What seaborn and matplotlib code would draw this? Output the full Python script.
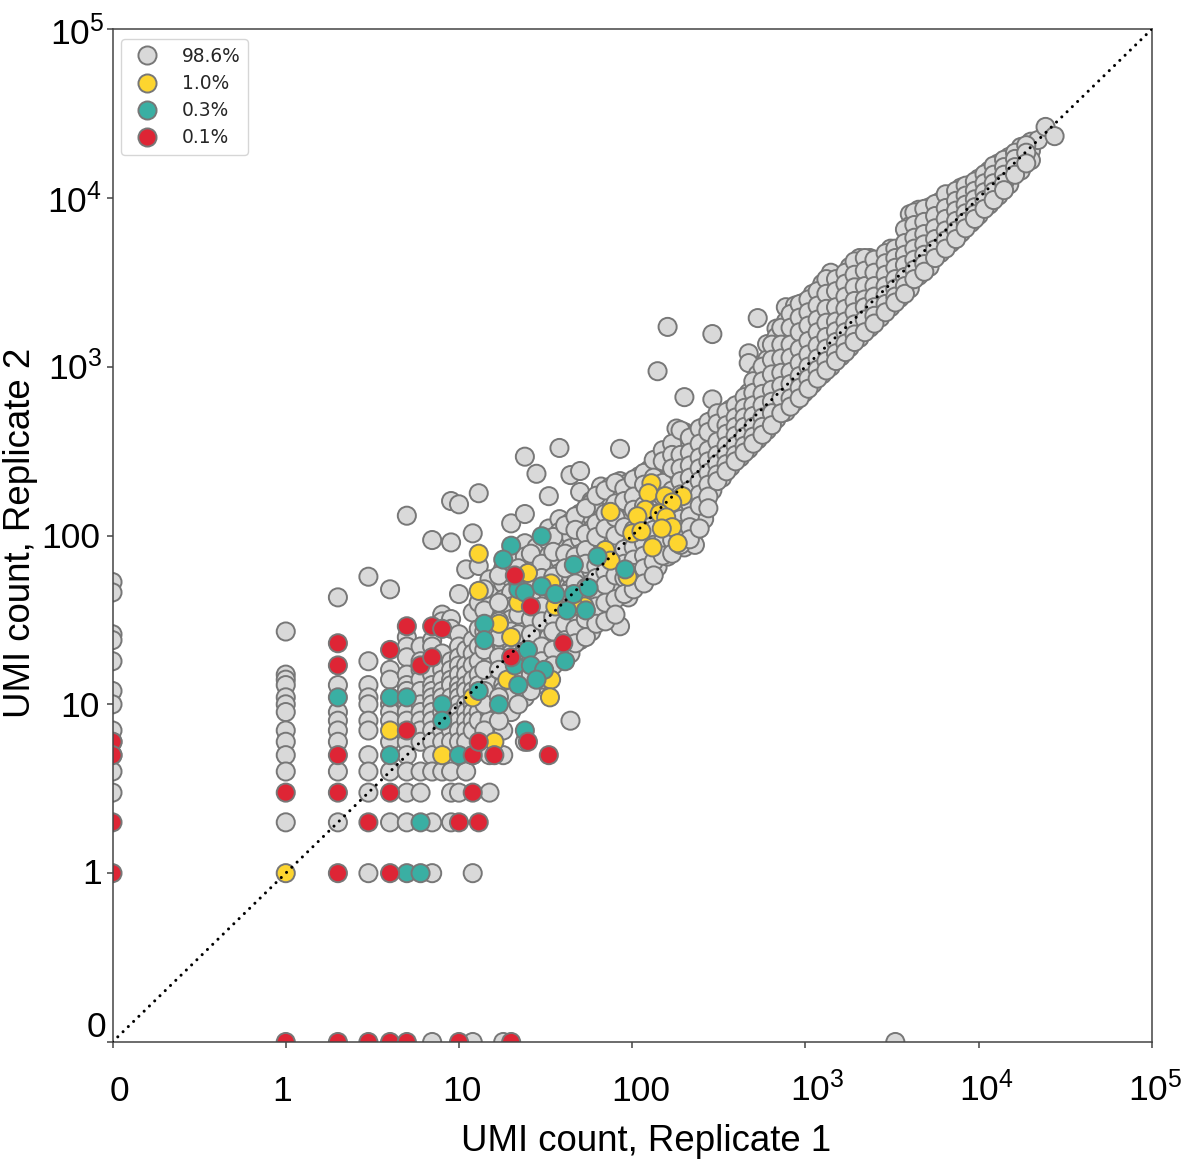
import matplotlib
matplotlib.use("Agg")
import matplotlib.pyplot as plt
import matplotlib.transforms as mtrans
import pandas as pd
import seaborn as sns

LEGEND = ["98.6%", "1.0%", "0.3%", "0.1%"]
COLORS = ["#d9d9d9", "#fdd52f", "#3aafa3", "#de2535"]
TICKS = [0, 1, 10, 100, 1000, 10000, 100000]
TICK_LABELS = ["0", "1", "10", "100", r"$\mathregular{10^{3}}$", r"$\mathregular{10^{4}}$", r"$\mathregular{10^{5}}$"]

# grey points: each x with the y values seen above it
grey_col_x = [0, 1, 2, 3, 4, 5, 6, 7, 8, 9, 10, 11, 12, 13,
              15, 18, 20, 24, 28, 33, 38, 44, 50, 58, 66, 75, 85, 95, 110, 125, 140, 160, 180,
              200, 230, 260, 290, 330, 370, 420, 470, 530, 600, 680, 770, 870, 980, 1100, 1250, 1400,
              1600, 1800, 2050, 2350, 2700, 3100, 3500, 4000, 4500, 5200, 6000, 6900, 7900, 9000,
              10000, 11500, 13000, 15000, 17500, 20000, 22000]
grey_col_y = [
    [53, 46, 26, 24, 18, 12, 10, 7, 6, 5, 4, 3],
    [27, 15, 14, 13, 11, 10, 9, 7, 6, 5, 4, 2],
    [43, 13, 9, 8, 7, 6, 4, 2],
    [57, 18, 13, 11, 10, 8, 7, 5, 4, 3, 1],
    [48, 16, 14, 10, 9, 8, 6, 4, 2],
    [131, 25, 22, 19, 15, 13, 12, 10, 9, 8, 6, 5, 4, 3, 2],
    [22, 18, 16, 14, 12, 10, 9, 8, 7, 6, 4, 3],
    [94, 24, 22, 18, 15, 13, 12, 11, 10, 9, 8, 7, 6, 5, 4, 2, 1, 0],
    [34, 31, 20, 16, 14, 12, 11, 9, 7, 6, 4],
    [91, 160, 32, 28, 18, 16, 14, 13, 11, 9, 8, 7, 6, 4, 3, 2],
    [153, 45, 26, 22, 19, 17, 15, 13, 12, 11, 10, 9, 8, 7, 6, 3],
    [63, 21, 17, 15, 13, 12, 10, 9, 8, 7, 6, 4],
    [103, 35, 24, 20, 17, 14, 12, 10, 9, 8, 7, 5, 1, 0],
    [178, 66, 40, 28, 22, 18, 15, 13, 11, 9, 8],
    [55, 45, 38, 33, 28, 24, 20, 17, 15, 13, 11, 9, 8, 5, 3],
    [64, 52, 42, 35, 30, 26, 22, 18, 15, 13, 12, 9, 7, 5, 0],
    [118, 70, 56, 46, 38, 32, 27, 23, 20, 16, 14, 11, 9],
    [134, 293, 90, 75, 60, 50, 42, 36, 30, 25, 21, 17, 14, 11, 6],
    [232, 85, 70, 58, 48, 40, 34, 28, 24, 20, 16, 13],
    [171, 110, 92, 76, 62, 52, 44, 36, 30, 25, 20, 15],
    [330, 125, 105, 86, 72, 60, 50, 42, 34, 28, 22, 18],
    [228, 120, 100, 84, 70, 58, 48, 40, 33, 26, 20, 8],
    [241, 181, 135, 112, 95, 78, 65, 55, 46, 38, 30, 24],
    [160, 155, 130, 108, 90, 75, 62, 52, 44, 36, 27],
    [195, 150, 125, 105, 88, 72, 60, 50, 42, 34],
    [195, 165, 140, 115, 95, 80, 66, 55, 46, 36],
    [326, 210, 175, 150, 125, 105, 88, 72, 60, 50, 29],
    [205, 180, 150, 125, 105, 90, 75, 62, 52, 43],
    [225, 190, 160, 135, 115, 95, 80, 68, 55],
    [245, 210, 175, 145, 120, 100, 85, 72, 60],
    [940, 260, 230, 190, 160, 135, 115, 95, 80, 65],
    [1720, 300, 260, 215, 180, 150, 125, 105, 88, 75],
    [430, 330, 280, 235, 195, 165, 140, 118, 100, 85],
    [660, 410, 330, 280, 235, 195, 165, 140, 118, 100, 85],
    [400, 340, 285, 240, 200, 170, 145, 125, 105, 88],
    [440, 370, 310, 265, 225, 190, 160, 125],
    [1560, 640, 480, 400, 340, 290, 250, 215, 185],
    [520, 440, 380, 330, 285, 245, 220],
    [560, 480, 420, 370, 320, 280, 255],
    [600, 530, 470, 420, 365, 320, 290],
    [1200, 1050, 700, 600, 530, 470, 410, 360, 325],
    [1940, 900, 750, 640, 550, 470, 410, 370],
    [1360, 1100, 900, 750, 640, 550, 470, 420],
    [1680, 1500, 1200, 1000, 820, 690, 590, 490],
    [2250, 1850, 1500, 1250, 1020, 850, 720, 590, 540],
    [2170, 2300, 1900, 1500, 1250, 1020, 860, 720, 620],
    [2400, 2000, 1650, 1350, 1120, 950, 800, 700],
    [2700, 2200, 1800, 1500, 1250, 1050, 900, 790],
    [3100, 2500, 2050, 1700, 1420, 1200, 1020, 900],
    [3600, 2900, 2350, 1950, 1600, 1350, 1150, 1000],
    [3130, 3000, 2500, 2100, 1750, 1500, 1280, 1150],
    [3900, 3300, 2800, 2350, 2000, 1700, 1450, 1300],
    [4400, 3700, 3100, 2600, 2200, 1850, 1620, 1480],
    [4400, 3800, 3200, 2700, 2300, 1950, 1700],
    [4300, 3900, 3300, 2800, 2400, 2100, 1950],
    [5000, 4300, 3700, 3200, 2800, 2500, 2250],
    [5000, 4600, 4000, 3500, 3050, 2750, 2550],
    [8000, 6800, 5600, 4800, 4200, 3650, 3200, 2900],
    [8500, 7000, 6000, 5200, 4500, 3900, 3450],
    [8800, 7400, 6300, 5400, 4700, 4200, 3900],
    [9500, 8200, 7000, 6000, 5200, 4700],
    [10500, 9300, 8000, 6900, 6000, 5400],
    [11500, 10000, 8800, 7800, 6900, 6200],
    [12000, 10700, 9500, 8500, 7600, 7100],
    [13000, 11500, 10200, 9200, 8100, 7900],
    [14500, 13000, 11500, 10200, 9100],
    [16000, 14500, 13000, 11600, 10300],
    [17500, 16000, 14500, 13000, 12000],
    [20000, 18000, 16000, 14500],
    [21500, 19000, 16700],
    [22000],
]
# further grey points lying between those columns, drawn over them
grey_more_x = [14, 17, 22, 26, 30, 35, 41, 47, 54, 62, 70, 80, 90, 102, 117, 133, 150, 170, 190,
               215, 245, 275, 310, 350, 395, 445, 500, 565, 640, 725, 820, 925, 1040, 1175, 1320,
               1500, 1700, 1920, 2200, 2500, 2900, 3300, 3750, 4250, 4850, 5600, 6450, 7400, 8400,
               9500, 10800, 12200, 14000, 16200, 18800]
grey_more_y = [
    [48, 36, 27, 21, 16, 12, 10, 7],
    [58, 40, 31, 25, 19, 16, 11, 8],
    [64, 52, 34, 26, 19, 15, 10],
    [78, 54, 44, 32, 26, 18, 15, 12],
    [68, 56, 38, 31, 22, 18, 14],
    [98, 80, 57, 46, 33, 27, 21, 17],
    [115, 78, 64, 45, 37, 30, 24],
    [130, 108, 75, 52, 43, 35, 28, 23],
    [145, 102, 82, 68, 49, 40, 32, 25],
    [172, 118, 98, 66, 56, 47, 38, 30],
    [185, 135, 110, 75, 61, 51, 40, 31],
    [205, 155, 128, 100, 70, 58, 42, 34],
    [190, 160, 112, 83, 68, 56, 45],
    [215, 170, 142, 108, 85, 72, 60, 48],
    [235, 200, 150, 125, 90, 76, 64, 52],
    [280, 220, 180, 128, 108, 88, 70, 58],
    [320, 275, 205, 170, 130, 110, 92, 76],
    [350, 300, 250, 185, 155, 130, 112, 94, 78],
    [420, 300, 250, 210, 175, 150, 125, 108, 88],
    [380, 310, 260, 220, 185, 155, 130, 112, 95],
    [430, 350, 290, 250, 210, 175, 150, 110],
    [470, 410, 320, 275, 235, 200, 170, 145],
    [530, 460, 360, 300, 265, 230, 210],
    [540, 450, 400, 340, 300, 265, 240],
    [590, 500, 440, 390, 340, 300, 275],
    [660, 570, 500, 440, 385, 340, 310],
    [820, 700, 590, 510, 440, 385, 350],
    [1000, 820, 690, 590, 500, 440, 395],
    [1350, 1100, 900, 730, 620, 530, 450],
    [1700, 1350, 1120, 920, 770, 650, 530],
    [2050, 1700, 1350, 1130, 930, 790, 650, 580],
    [2350, 1950, 1600, 1270, 1050, 880, 750, 650],
    [2500, 2100, 1750, 1420, 1180, 1000, 850, 740],
    [2800, 2300, 1900, 1600, 1330, 1120, 960, 850],
    [3300, 2700, 2200, 1820, 1500, 1280, 1080, 950],
    [3300, 2800, 2250, 1850, 1620, 1400, 1200, 1080],
    [3600, 3100, 2600, 2200, 1850, 1600, 1370, 1220],
    [4200, 3500, 2950, 2450, 2100, 1780, 1550, 1400],
    [4400, 3700, 3000, 2500, 2250, 1900, 1600],
    [4300, 3600, 3000, 2600, 2250, 2000, 1800],
    [4700, 4100, 3500, 3000, 2650, 2350, 2100],
    [5000, 4400, 3850, 3300, 2900, 2600, 2400, 0],
    [6500, 5400, 4600, 4000, 3400, 3000, 2700],
    [8200, 6900, 5800, 5000, 4300, 3750, 3300],
    [8600, 7200, 6100, 5300, 4600, 4050, 3650],
    [9200, 7800, 6600, 5700, 4950, 4400],
    [10500, 8700, 7500, 6400, 5600, 5000],
    [11000, 9600, 8400, 7300, 6400, 5700],
    [11800, 10300, 9100, 8100, 7200, 6600],
    [12500, 11000, 9800, 8800, 8000, 7500],
    [13800, 12200, 10800, 9700, 8600],
    [15500, 13700, 12200, 10900, 9700],
    [16800, 15200, 13700, 12200, 11100],
    [18500, 17000, 15200, 13700],
    [20500, 18500, 16000],
]
grey_top_x = [24300, 27400]
grey_top_y = [26300, 23200]

yellow_x = [1, 4, 8, 12, 16, 13, 13, 25, 17, 20, 19, 34, 33.5, 22, 34, 36, 53, 46, 70, 75, 94, 75,
            129, 124, 155, 195, 170, 119, 107, 144, 157, 170, 148, 100, 113, 131, 183]
yellow_y = [1, 7, 5, 11, 6, 78, 47, 60, 30, 25, 14, 14, 11, 40, 52, 38, 38, 38, 82, 71, 57, 138,
            204, 178, 171, 171, 157, 142, 130, 135, 128, 112, 110, 103, 106, 85, 90]
teal_x = [2, 4, 5, 4, 10, 6, 5, 6, 8, 8, 13, 17, 24, 14, 14, 25, 41, 21, 26, 31, 28, 22,
          20, 18, 30, 22, 24, 30, 36, 42, 46, 56, 54, 46, 63, 91]
teal_y = [11, 11, 11, 5, 5, 2, 1, 1, 10, 8, 12, 10, 7, 30, 24, 21, 18, 17, 17, 16, 14, 13,
          87, 72, 99, 48, 46, 50, 45, 36, 45, 49, 36, 67, 75, 63]
red_x = [0, 0, 0, 0, 1, 1, 2, 2, 2, 2, 2, 2, 3, 3, 4, 4, 4, 4, 5, 5, 5, 6, 7, 7, 8, 10, 12, 13,
         12, 13, 16, 25, 33, 20, 21, 26, 40, 10, 20]
red_y = [6, 5, 2, 1, 3, 0, 23, 17, 5, 3, 1, 0, 2, 0, 21, 3, 1, 0, 29, 7, 0, 17, 29, 19, 28, 2, 3, 2,
         5, 6, 5, 6, 5, 19, 58, 38, 23, 0, 0]

grey_x = ([x for x, ys in zip(grey_col_x, grey_col_y) for _ in ys]
          + [x for x, ys in zip(grey_more_x, grey_more_y) for _ in ys] + grey_top_x)
grey_y = ([y for ys in grey_col_y for y in ys]
          + [y for ys in grey_more_y for y in ys] + grey_top_y)

df = pd.concat([
    pd.DataFrame({"x": grey_x, "y": grey_y, "group": LEGEND[0]}),
    pd.DataFrame({"x": yellow_x, "y": yellow_y, "group": LEGEND[1]}),
    pd.DataFrame({"x": teal_x, "y": teal_y, "group": LEGEND[2]}),
    pd.DataFrame({"x": red_x, "y": red_y, "group": LEGEND[3]}),
], ignore_index=True)

sns.set_theme(style="white")
plt.rcParams["font.family"] = ["Liberation Sans", "DejaVu Sans"]
W, H = 1181, 1160
fig = plt.figure(figsize=(W / 100, H / 100), dpi=100)
ax = fig.add_axes([112.5 / W, 1 - 1042 / H, (1152 - 112.5) / W, (1042 - 29) / H])

sns.scatterplot(data=df, x="x", y="y", hue="group", hue_order=LEGEND, palette=COLORS,
                s=170, edgecolor="#777777", linewidth=1.4, ax=ax, clip_on=True, zorder=2)
ax.plot([0, 100000], [0, 100000], color="black", lw=2.2, dashes=(0.01, 2.4),
        dash_capstyle="round", zorder=3)

for setter in (ax.set_xscale, ax.set_yscale):
    setter("symlog", linthresh=1, linscale=0.9)
ax.set_xlim(0, 100000)
ax.set_ylim(0, 100000)
ax.set_xticks(TICKS)
ax.set_yticks(TICKS)
ax.set_xticklabels(TICK_LABELS)
ax.set_yticklabels(TICK_LABELS)
ax.minorticks_off()
ax.tick_params(axis="both", length=4.5, width=1.1, color="#444444", labelsize=25.5, labelcolor="black",
               bottom=True, left=True, pad=1)
for sp in ax.spines.values():
    sp.set_color("#444444")
    sp.set_linewidth(1.1)

# hand-placed tick labels of the original (pixel shifts, baseline-aligned)
x_shift = [7, -4, 3, 8, 12, 8, 3]
x_drop = 51.4
y_shift = [1, -3, -5, -5, -2, -3, 0]
y_drop = [-5, 11, 13, 13, 13, 15, 16]
for lab, dx in zip(ax.get_xticklabels(), x_shift):
    lab.set_verticalalignment("baseline")
    lab.set_transform(lab.get_transform() + mtrans.Affine2D().translate(dx, -x_drop))
for lab, dx, dy in zip(ax.get_yticklabels(), y_shift, y_drop):
    lab.set_verticalalignment("baseline")
    lab.set_transform(lab.get_transform() + mtrans.Affine2D().translate(dx, -dy))

ax.set_xlabel("UMI count, Replicate 1", fontsize=26.4, color="black", va="baseline")
ax.set_ylabel("UMI count, Replicate 2", fontsize=26.4, color="black", va="baseline")
ax.xaxis.set_label_coords(0.513, -0.108)
ax.yaxis.set_label_coords(-0.0794, 0.503)

ax.legend(loc="upper left", bbox_to_anchor=(0.0082, 0.990), borderaxespad=0, title=None,
          prop={"family": "DejaVu Sans", "size": 13.4}, frameon=True, edgecolor="#cccccc",
          labelspacing=0.435, handletextpad=0.83, labelcolor="#262626", borderpad=0.42)
fig.savefig("out.png", dpi=100)
